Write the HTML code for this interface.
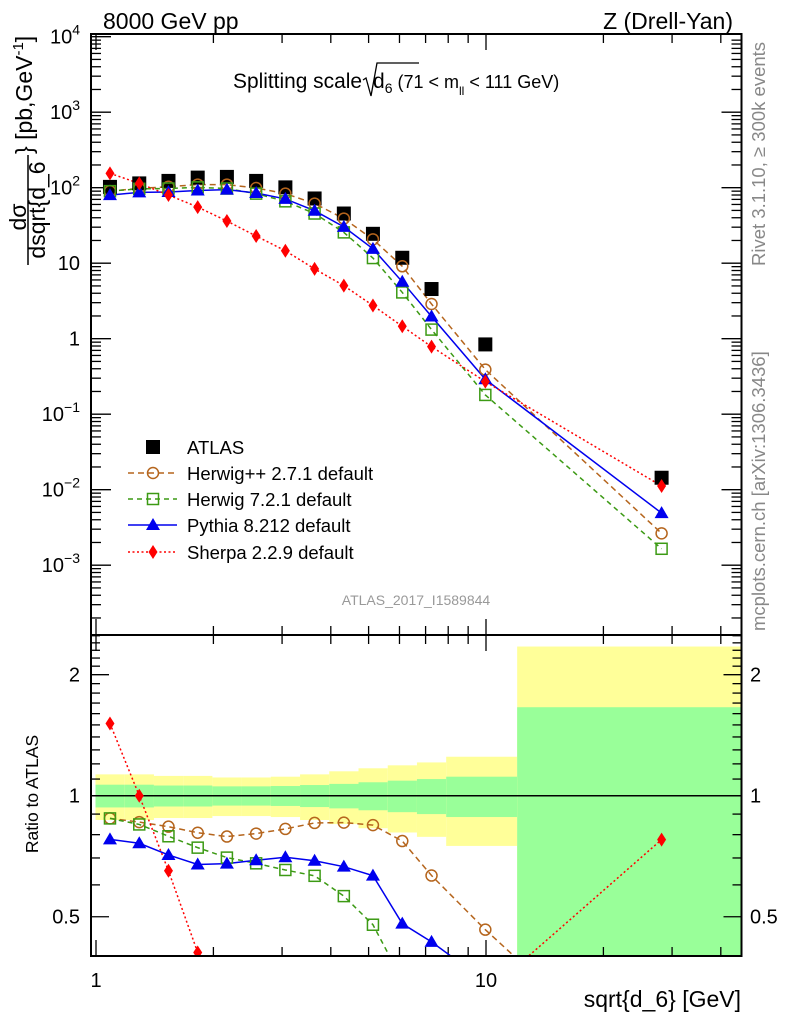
<!DOCTYPE html>
<html><head><meta charset="utf-8"><style>
html,body{margin:0;padding:0;background:#fff;overflow:hidden;width:786px;height:1024px;}
svg{display:block;font-family:"Liberation Sans",sans-serif;}
</style></head><body>
<svg id="chart" width="786" height="1024" viewBox="0 0 786 1024" xmlns="http://www.w3.org/2000/svg">
<g id="bands"></g>
<g id="ticks"></g>
<g id="series"></g>
<rect x="91" y="34" width="650.5" height="601" fill="none" stroke="#000" stroke-width="2"/>
<rect x="91" y="635" width="650.5" height="321" fill="none" stroke="#000" stroke-width="2"/>
<text x="103" y="29" font-size="23">8000 GeV pp</text>
<text x="733" y="29" font-size="23" text-anchor="end">Z (Drell-Yan)</text>
<g>
<text x="233" y="88" font-size="21" textLength="129" lengthAdjust="spacingAndGlyphs">Splitting scale</text>
<path d="M363,80 L366,78 L371,96 L377,63 L419,63" fill="none" stroke="#000" stroke-width="1.3"/>
<text x="373" y="88" font-size="21">d<tspan font-size="14" dy="5">6</tspan><tspan font-size="18" dy="-5"> (71 &lt; m</tspan><tspan font-size="12" dy="7">ll</tspan><tspan font-size="18" dy="-7"> &lt; 111 GeV)</tspan></text>
</g>
<g transform="rotate(-90)" font-size="23">
<text x="-217" y="26" text-anchor="middle">dσ</text>
<line x1="-265" y1="28" x2="-155" y2="28" stroke="#000" stroke-width="1.5"/>
<text x="-210" y="45" text-anchor="middle">dsqrt{d_6</text>
<text x="-154" y="32">} [pb,GeV<tspan font-size="15" dy="-9">-1</tspan><tspan dy="9">]</tspan></text>
</g>
<text transform="translate(38,794) rotate(-90)" font-size="17.5" text-anchor="middle">Ratio to ATLAS</text>
<text x="741" y="1007" font-size="23" text-anchor="end">sqrt{d_6} [GeV]</text>
<text transform="translate(765,266) rotate(-90)" font-size="18.5" fill="#888">Rivet 3.1.10, ≥ 300k events</text>
<text transform="translate(765,631) rotate(-90)" font-size="18.5" fill="#888">mcplots.cern.ch [arXiv:1306.3436]</text>
<text x="416" y="605" font-size="14" fill="#999" text-anchor="middle">ATLAS_2017_I1589844</text>
<g id="legend" font-size="18.5"></g>
</svg>
<script>
const centers=[1.086,1.291,1.534,1.823,2.166,2.574,3.059,3.635,4.32,5.13,6.10,7.25,9.96,28.2];
const edges=[0.997,1.185,1.408,1.673,1.988,2.362,2.807,3.336,3.964,4.711,5.598,6.652,7.905,12.02,45.3];
const atlas=[102.5,114,123,136,139,123,101,72,45.5,24.5,11.8,4.55,0.84,0.0144];
const herwigpp=[90,98,103,110,110,99,83.5,61.6,39,20.7,9.1,2.88,0.39,0.00264];
const herwig7=[90,96.7,97.5,101,97.5,83.5,66,45.5,25.6,11.7,4.1,1.32,0.18,0.00165];
const pythia=[79.8,86.8,87.6,91.7,94.2,85,71,49.6,30.3,15.5,5.67,1.97,0.29,0.0049];
const sherpa=[155,114,80,55.4,36.2,22.9,14.6,8.4,5.04,2.75,1.46,0.785,0.27,0.0112];
const statErr=[0.065,0.065,0.06,0.06,0.055,0.055,0.057,0.063,0.07,0.08,0.09,0.10,0.115,0.66];
const totErr=[0.13,0.13,0.12,0.12,0.11,0.11,0.115,0.13,0.15,0.17,0.19,0.21,0.25,1.35];
const mainTickLabels=["10^4","10^3","10^2","10","1","10^-1","10^-2","10^-3"];
const ratioTickLabels=["0.5","1","2"];
const xTickLabels=["1","10"];

const NS="http://www.w3.org/2000/svg";
const XL=91,XR=741.5,MT=34,MB=635,RT=635,RB=956;
function X(v){return 96+390*Math.log10(v);}
function Y(v){return 36.7+(4-Math.log10(v))*75.5;}
function R(r){return 795.7-402*Math.log10(r);}
function mk(tag,attrs,parent){const e=document.createElementNS(NS,tag);for(const k in attrs)e.setAttribute(k,attrs[k]);parent.appendChild(e);return e;}
const bands=document.getElementById('bands'),ticks=document.getElementById('ticks'),series=document.getElementById('series'),legend=document.getElementById('legend');
function clampR(y){return Math.max(RT,Math.min(RB,y));}
for(let i=0;i<centers.length;i++){
 const x1=Math.max(XL,X(edges[i])),x2=Math.min(XR,X(edges[i+1]));
 const lo=1-totErr[i];
 const yt=clampR(R(1+totErr[i])),yb=lo>0?clampR(R(lo)):RB;
 const r1=mk('rect',{x:x1,y:yt,width:x2-x1,height:yb-yt,fill:'#ffff99'},bands);
 
 
 const gt=clampR(R(1+statErr[i])),gb=clampR(R(1-statErr[i]));
 const r2=mk('rect',{x:x1,y:gt,width:x2-x1,height:gb-gt,fill:'#99ff99'},bands);
 
 
}
const one=mk('line',{x1:XL,x2:XR,y1:R(1),y2:R(1),stroke:'#000','stroke-width':1.5},bands);


const xt=[];
for(let d=1;d<=10;d*=10)for(let m=1;m<10;m++){const v=m*d;if(v<=45)xt.push(v);}
xt.forEach(v=>{const x=X(v);const major=(v===1||v===10);const L=major?16:9;
 [[MB,-1],[MT,1],[RB,-1],[RT,1]].forEach(([y,s])=>{const t=mk('line',{x1:x,x2:x,y1:y,y2:y+s*L,stroke:'#000','stroke-width':1.3},ticks);
 
 });
});
xTickLabels.forEach((s,i)=>{const t=mk('text',{x:X(Math.pow(10,i)),y:987,'font-size':20,'text-anchor':'middle'},ticks);t.textContent=s;
 
 });
for(let e=-4;e<=3;e++)for(let m=1;m<10;m++){const v=m*Math.pow(10,e);const y=Y(v);if(y<MT-0.5||y>MB)continue;const L=m===1?20:10;
 [[XL,1],[XR,-1]].forEach(([x,s])=>{const t=mk('line',{x1:x,x2:x+s*L,y1:y,y2:y,stroke:'#000','stroke-width':1.3},ticks);
 
 });}
{const t=mk('line',{x1:XL,x2:XL+20,y1:Y(1e4),y2:Y(1e4),stroke:'#000','stroke-width':1.3},ticks);
 
 }
mainTickLabels.forEach((s,i)=>{const v=Math.pow(10,4-i);const y=Y(v)+7;
 const t=mk('text',{x:80,y:y,'font-size':20,'text-anchor':'end'},ticks);
 
 
 if(s.indexOf('^')>=0){const p=s.split('^');t.textContent=p[0];const sp=mk('tspan',{'font-size':14,dy:-9},t);sp.textContent=p[1].replace('-','−');}
 else t.textContent=s;});
const rt=[];for(let k=4;k<=25;k++)rt.push(k/10);
rt.forEach(v=>{const y=R(v);if(y<RT||y>RB)return;const major=(v===0.5||v===1||v===2);const L=major?18:9;
 [[XL,1],[XR,-1]].forEach(([x,s])=>{const t=mk('line',{x1:x,x2:x+s*L,y1:y,y2:y,stroke:'#000','stroke-width':1.3},ticks);
 
 });});
ratioTickLabels.forEach(s=>{const y=R(parseFloat(s))+7;
 [[80,'end'],[750,'start']].forEach(([x,a])=>{const t=mk('text',{x:x,y:y,'font-size':20,'text-anchor':a},ticks);t.textContent=s;
 
 });});
function marker(type,x,y,color,parent){
 if(type==='sq')return mk('rect',{x:x-7,y:y-7,width:14,height:14,fill:'#000'},parent);
 if(type==='circ')return mk('circle',{cx:x,cy:y,r:5.5,fill:'none',stroke:color,'stroke-width':1.5},parent);
 if(type==='osq')return mk('rect',{x:x-5.5,y:y-5.5,width:11,height:11,fill:'none',stroke:color,'stroke-width':1.5},parent);
 if(type==='tri')return mk('path',{d:`M${x},${y-7} L${x+7},${y+5} L${x-7},${y+5} Z`,fill:color},parent);
 if(type==='dia')return mk('path',{d:`M${x},${y-7} L${x+4.5},${y} L${x},${y+7} L${x-4.5},${y} Z`,fill:color},parent);
}
const mcs=[
 {name:'herwigpp',vals:herwigpp,color:'#b5651d',dash:'6,4',m:'circ',label:'Herwig++ 2.7.1 default'},
 {name:'herwig7',vals:herwig7,color:'#3c9a14',dash:'5,4',m:'osq',label:'Herwig 7.2.1 default'},
 {name:'pythia',vals:pythia,color:'#0000ee',dash:'',m:'tri',label:'Pythia 8.212 default'},
 {name:'sherpa',vals:sherpa,color:'#ff0000',dash:'2,2.5',m:'dia',label:'Sherpa 2.2.9 default'}];
const defs=mk('defs',{},series);
const cp1=mk('clipPath',{id:'cmain'},defs);mk('rect',{x:XL,y:MT,width:XR-XL,height:MB-MT},cp1);
const cp2=mk('clipPath',{id:'cratio'},defs);mk('rect',{x:XL,y:RT,width:XR-XL,height:RB-RT},cp2);
const gm=mk('g',{'clip-path':'url(#cmain)'},series),gr=mk('g',{'clip-path':'url(#cratio)'},series);
mcs.forEach(s=>{
 const pm=s.vals.map((v,i)=>X(centers[i])+','+Y(v)).join(' ');
 const l1=mk('polyline',{points:pm,fill:'none',stroke:s.color,'stroke-width':1.5,'stroke-dasharray':s.dash},gm);
 
 
 const pr=s.vals.map((v,i)=>X(centers[i])+','+R(v/atlas[i])).join(' ');
 const l2=mk('polyline',{points:pr,fill:'none',stroke:s.color,'stroke-width':1.5,'stroke-dasharray':s.dash},gr);
 
 
});
atlas.forEach((v,i)=>{const e=marker('sq',X(centers[i]),Y(v),'#000',gm);
 
 });
mcs.forEach(s=>{s.vals.forEach((v,i)=>{
 const a=marker(s.m,X(centers[i]),Y(v),s.color,gm);
 
 
 const b=marker(s.m,X(centers[i]),R(v/atlas[i]),s.color,gr);
 
 });});
const ly=[447,473,499,525,552];
{const e=marker('sq',153,ly[0],'#000',legend);
 
 
 const t=mk('text',{x:187,y:ly[0]+7},legend);t.textContent='ATLAS';
 
 }
mcs.forEach((s,k)=>{const y=ly[k+1];
 const l=mk('line',{x1:128,x2:177,y1:y,y2:y,stroke:s.color,'stroke-width':1.5,'stroke-dasharray':s.dash},legend);
 
 
 const m=marker(s.m,153,y,s.color,legend);
 
 
 const t=mk('text',{x:187,y:y+7},legend);t.textContent=s.label;
 
 });
</script>
</body></html>
